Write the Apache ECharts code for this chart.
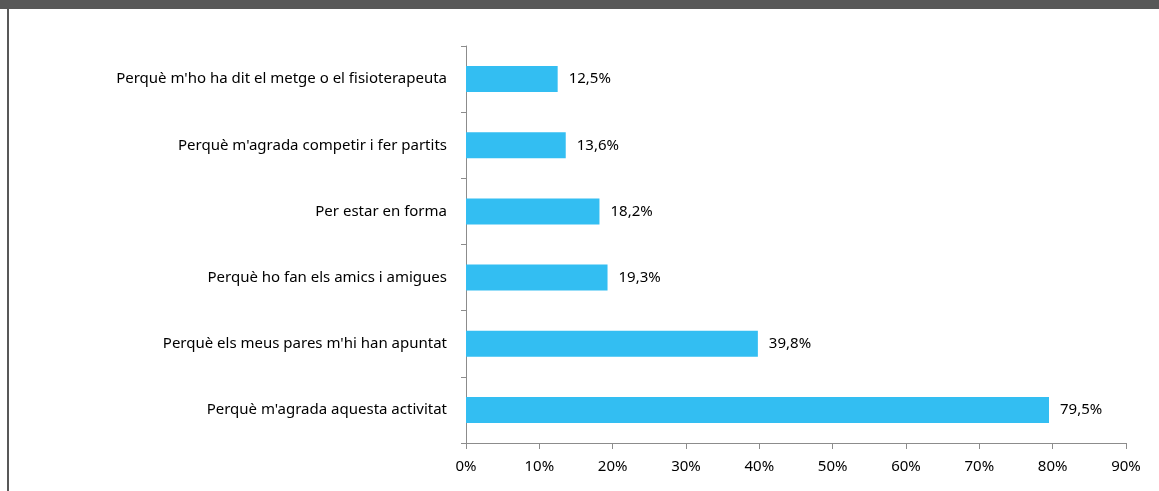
<!DOCTYPE html>
<html>
<head>
<meta charset="utf-8">
<script src="https://cdn.jsdelivr.net/npm/echarts@6/dist/echarts.min.js"></script>
<style>
  html, body { margin: 0; padding: 0; background: #fff; }
  #chart { width: 1159px; height: 491px; }
</style>
</head>
<body>
<div id="chart"></div>
<script>
// categories, bottom to top (ECharts category axis order)
const categories = [
  "Perquè m'agrada aquesta activitat",
  "Perquè els meus pares m'hi han apuntat",
  'Perquè ho fan els amics i amigues',
  'Per estar en forma',
  "Perquè m'agrada competir i fer partits",
  "Perquè m'ho ha dit el metge o el fisioterapeuta",
]
const values = [79.5, 39.8, 19.3, 18.2, 13.6, 12.5]

const axisColor = '#8c8c8c'
const font = '"Noto Sans", sans-serif'

const chart = echarts.init(document.getElementById('chart'))

chart.setOption({
  animation: false,
  // header band + left frame line
  graphic: [
    {
      type: 'rect',
      shape: { x: 0, y: 0, width: 1159, height: 9 },
      style: { fill: '#585858' },
      silent: true,
    },
    {
      type: 'rect',
      shape: { x: 7, y: 0, width: 2, height: 491 },
      style: { fill: '#585858' },
      silent: true,
    },
  ],
  grid: {
    left: 466,
    right: 33,
    top: 46,
    bottom: 48,
  },
  xAxis: {
    type: 'value',
    min: 0,
    max: 90,
    interval: 10,
    axisLine: { show: true, lineStyle: { color: axisColor } },
    axisTick: { show: true, length: 6, lineStyle: { color: axisColor } },
    splitLine: { show: false },
    axisLabel: {
      formatter: '{value}%',
      color: '#000',
      fontFamily: font,
      fontSize: 15,
      margin: 16,
    },
  },
  yAxis: {
    type: 'category',
    data: categories,
    axisLine: { show: true, lineStyle: { color: axisColor } },
    axisTick: { show: true, length: 5, lineStyle: { color: axisColor } },
    axisLabel: {
      color: '#000',
      fontFamily: font,
      fontSize: 15,
      margin: 19,
    },
  },
  series: [
    {
      type: 'bar',
      data: values,
      barWidth: 26,
      itemStyle: { color: '#33bef2' },
      label: {
        show: true,
        position: 'right',
        distance: 11,
        color: '#000',
        fontFamily: font,
        fontSize: 15,
        formatter: (p) => p.value.toFixed(1).replace('.', ',') + '%',
      },
    },
  ],
})
</script>
</body>
</html>
